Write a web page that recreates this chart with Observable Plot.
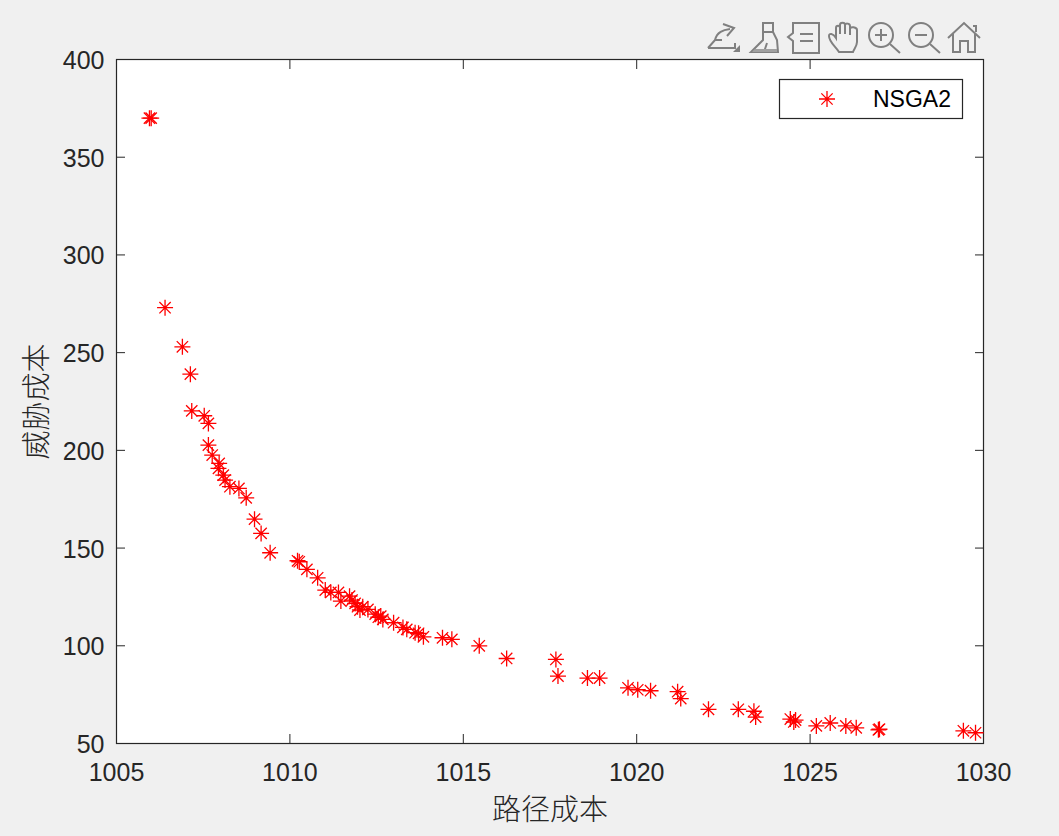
<!DOCTYPE html>
<html>
<head>
<meta charset="utf-8">
<script src="https://cdn.jsdelivr.net/npm/d3@7"></script>
<script src="https://cdn.jsdelivr.net/npm/@observablehq/plot@0.6"></script>
<style>
html,body{margin:0;padding:0;background:#f0f0f0;width:1059px;height:836px;overflow:hidden}
#chart{position:absolute;left:0;top:0}
#chart svg{background:transparent;display:block}
#toolbar{position:absolute;left:700px;top:14px}
</style>
</head>
<body>
<div id="chart"></div>
<svg id="toolbar" width="290" height="42" fill="none" stroke="#808080" stroke-width="2">
  <g transform="translate(8,8)"><path d="M0 26L7 18H14M0 26H27V21M7 18C9 10 15 8 22 7M15 2L26 6L19 14"/><path d="M25 30L32 23V30Z" fill="#808080" stroke="none"/></g>
  <g transform="translate(50,8)"><path d="M13 1H23V10H13ZM13 10V18L1 30H28L27 18L23 10M1 30L9 22M14 30L17 21"/><path d="M5 27H27V30H2Z" fill="#a0a0a0" stroke="none"/></g>
  <g transform="translate(88,8)"><path d="M5 1H31V31H5V19L0 15L5 11ZM12 12H25M12 19H25"/></g>
  <g transform="translate(128,8)"><path d="M11 30C8 25 1 20 1 14C1 11 5 11 8 16V6C8 3 12 3 12 6V12V3C12 0 17 0 17 3V12V3C17 1 22 1 22 4V13V7C22 4 29 5 29 8V20C29 24 26 27 25 30Z"/></g>
  <g transform="translate(168,8)"><circle cx="13" cy="13" r="12"/><path d="M22 22L32 31M13 7V19M7 13H19"/></g>
  <g transform="translate(208,8)"><circle cx="13" cy="13" r="12"/><path d="M22 22L32 31M7 13H19"/></g>
  <g transform="translate(248,8)"><path d="M0 16L16 1L32 16M5 12V30H12V19H20V30H27V12M25 4H28V10"/></g>
</svg>
<script>
const seriesName = "NSGA2";
const xLabel = "路径成本";
const yLabel = "威胁成本";
const xTicks = [1005, 1010, 1015, 1020, 1025, 1030];
const yTicks = [50, 100, 150, 200, 250, 300, 350, 400];
const pathCost = [
  1005.95, 1006.0, 1006.4, 1006.9, 1007.13, 1007.17, 1007.53, 1007.65, 1007.65, 1007.76,
  1007.96, 1007.94, 1008.08, 1008.13, 1008.27, 1008.53, 1008.74, 1008.98, 1009.17, 1009.43,
  1010.22, 1010.27, 1010.49, 1010.8, 1011.02, 1011.18, 1011.4, 1011.47, 1011.72, 1011.79,
  1011.88, 1011.95, 1012.02, 1012.1, 1012.25, 1012.46, 1012.55, 1012.62, 1012.68, 1012.99,
  1013.26, 1013.37, 1013.61, 1013.71, 1013.85, 1014.4, 1014.67, 1015.46, 1016.25, 1017.67,
  1017.73, 1018.58, 1018.93, 1019.75, 1020.03, 1020.4, 1021.18, 1021.27, 1022.07, 1022.93,
  1023.38, 1023.43, 1024.43, 1024.53, 1024.58, 1025.18, 1025.58, 1026.03, 1026.33, 1026.97,
  1027.0, 1029.42, 1029.77
];
const threatCost = [
  370, 370, 273, 253, 239, 220.2, 217.7, 213.8, 202.7, 197.6,
  193.3, 190.8, 187.3, 184.8, 181.4, 180.5, 175.7, 164.8, 157.5, 147.6,
  143.5, 143, 139.1, 134.8, 128.5, 127.3, 127.3, 122.9, 125.4, 123.4,
  121.7, 120, 118.3, 120, 118.6, 116.2, 114.6, 115.2, 113.5, 111.8,
  109.4, 108.4, 106.7, 106.4, 104.6, 104.1, 103.3, 100, 93.5, 93,
  84.5, 83.5, 83.5, 78.5, 77.5, 77, 76.5, 73, 67.5, 67.5,
  66.5, 63.5, 62.5, 61, 62, 59, 60.5, 59, 58, 57,
  57.3, 56.5, 55.5
];
const points = pathCost.map((x, i) => ({x, y: threatCost[i]}));

const star = {
  draw(ctx, size) {
    const r = Math.sqrt(size / Math.PI), d = r * Math.SQRT1_2;
    ctx.moveTo(-r, 0); ctx.lineTo(r, 0);
    ctx.moveTo(0, -r); ctx.lineTo(0, r);
    ctx.moveTo(-d, -d); ctx.lineTo(d, d);
    ctx.moveTo(-d, d); ctx.lineTo(d, -d);
  }
};
const ink = "#262626";
const fontCJK = "'Noto Sans CJK SC','Liberation Sans',sans-serif";
const numberFont = "'Liberation Sans',Arial,sans-serif";
const tick = {stroke: ink, color: ink, fontSize: 25, fontFamily: numberFont, label: null};

const plot = Plot.plot({
  width: 1059, height: 836,
  marginLeft: 116, marginRight: 76, marginTop: 59, marginBottom: 93,
  style: {background: "transparent", overflow: "visible"},
  x: {domain: [1005, 1030]},
  y: {domain: [50, 400]},
  marks: [
    Plot.frame({fill: "white", stroke: null}),
    Plot.axisX(xTicks, {...tick, tickSize: -9, anchor: "bottom", tickPadding: 29, tickFormat: d => String(d)}),
    Plot.axisX(xTicks, {...tick, tickSize: -9, anchor: "top", tickFormat: () => ""}),
    Plot.axisY(yTicks, {...tick, tickSize: 0, anchor: "left", tickPadding: 12, dy: 1.5, tickFormat: d => String(d)}),
    Plot.axisY(yTicks, {...tick, tickSize: -9, anchor: "left", tickFormat: () => ""}),
    Plot.axisY(yTicks, {...tick, tickSize: -9, anchor: "right", tickFormat: () => ""}),
    Plot.frame({stroke: ink, strokeWidth: 1.2}),
    Plot.dot(points, {x: "x", y: "y", symbol: star, r: 8, stroke: "#ff0000", strokeWidth: 1.3, fill: "none"}),
    Plot.text([xLabel], {frameAnchor: "bottom", dy: 67, fontSize: 29, fontWeight: 300, fill: ink, fontFamily: fontCJK, lineAnchor: "middle"}),
    Plot.text([yLabel], {frameAnchor: "left", dx: -79, rotate: -90, textAnchor: "middle", fontSize: 29, fontWeight: 300, fill: ink, fontFamily: fontCJK})
  ]
});
document.getElementById("chart").appendChild(plot);

// Legend, inside the plot's own SVG
const ns = "http://www.w3.org/2000/svg";
const lg = document.createElementNS(ns, "g");
const box = document.createElementNS(ns, "rect");
Object.entries({x: 779.5, y: 79.5, width: 183, height: 39, fill: "white", stroke: ink, "stroke-width": 1.2}).forEach(([k, v]) => box.setAttribute(k, v));
lg.appendChild(box);
const mk = document.createElementNS(ns, "path");
const ctx = d3.path();
star.draw(ctx, Math.PI * 8 * 8);
mk.setAttribute("d", ctx.toString());
mk.setAttribute("transform", "translate(827,99)");
mk.setAttribute("stroke", "#ff0000");
mk.setAttribute("stroke-width", 1.3);
mk.setAttribute("fill", "none");
lg.appendChild(mk);
const t = document.createElementNS(ns, "text");
t.textContent = seriesName;
Object.entries({x: 873, y: 107, "text-anchor": "start", "font-size": 23, "font-family": numberFont, fill: "#000"}).forEach(([k, v]) => t.setAttribute(k, v));
lg.appendChild(t);
plot.appendChild(lg);
</script>
</body>
</html>
